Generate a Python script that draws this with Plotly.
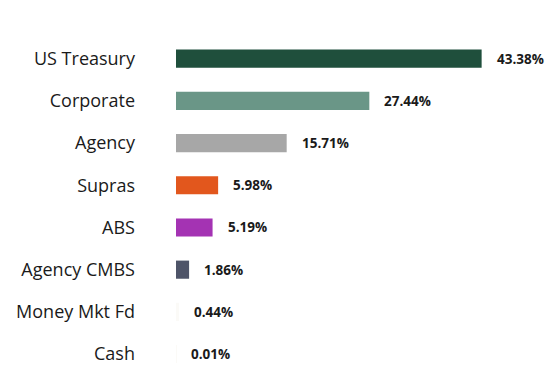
import plotly.graph_objects as go

# Portfolio sector allocation (% of market value)
sectors = ["US Treasury", "Corporate", "Agency", "Supras", "ABS",
           "Agency CMBS", "Money Mkt Fd", "Cash"]
weights = [43.38, 27.44, 15.71, 5.98, 5.19, 1.86, 0.44, 0.01]
bar_colors = ["#1f4f3c", "#6a9687", "#a7a7a7", "#e2571d", "#a433b3",
              "#4e5468", "#fbfaf7", "#fbfaf7"]

fig = go.Figure()
fig.add_trace(go.Bar(
    x=weights,
    y=sectors,
    orientation="h",
    width=0.43,
    marker=dict(color=bar_colors, line=dict(width=0)),
    hoverinfo="skip",
))

# Value labels to the right of each bar
for s, w in zip(sectors, weights):
    fig.add_annotation(
        x=w, y=s, xref="x", yref="y",
        text=f"<b>{w:.2f}%</b>",
        showarrow=False, xanchor="left", yanchor="middle",
        xshift=13,
        font=dict(family="Open Sans, sans-serif", size=13.5, color="#1a1a1a"),
    )

# row centres: first at 59px, spacing ~42.4px in a 365px-tall figure
step = 42.43
top_idx = -59 / step
bot_idx = (365 - 59) / step

fig.update_layout(
    width=548, height=365,
    margin=dict(l=176, r=0, t=0, b=0),
    paper_bgcolor="white", plot_bgcolor="white",
    showlegend=False,
    xaxis=dict(range=[0, 52.8], visible=False, fixedrange=True),
    yaxis=dict(
        type="category",
        categoryorder="array", categoryarray=sectors,
        range=[bot_idx, top_idx],
        showgrid=False, zeroline=False, showline=False,
        ticks="", ticklabelstandoff=40,
        tickfont=dict(family="Open Sans, sans-serif", size=18, color="#1a1a1a"),
    ),
)

fig.write_html("out.html")
